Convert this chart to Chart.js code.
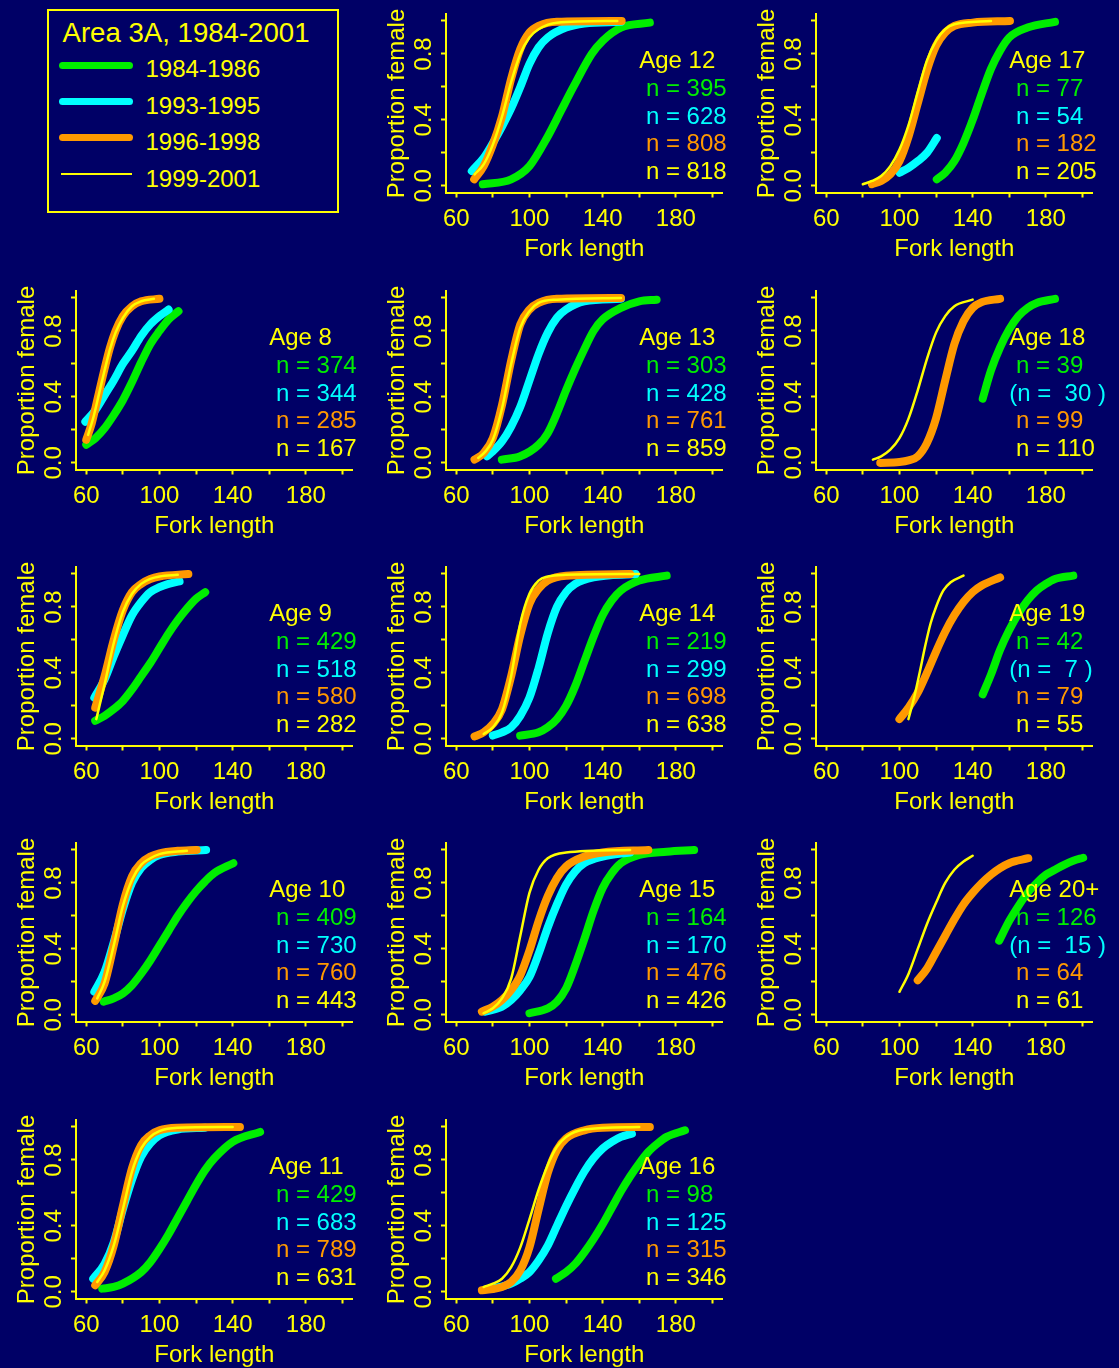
<!DOCTYPE html>
<html>
<head>
<meta charset="utf-8">
<script src="https://cdn.jsdelivr.net/npm/chart.js@4.4.1/dist/chart.umd.min.js"></script>
<style>
html,body{margin:0;padding:0;background:#000066;width:1119px;height:1368px;overflow:hidden;}
.panel{position:absolute;width:370px;height:276px;}
.lg{position:absolute;font-family:"Liberation Sans",Arial,sans-serif;color:#ffff00;white-space:nowrap;line-height:1;}
.sw{position:absolute;}
#lgbox{position:absolute;left:46.7px;top:9px;width:292.6px;height:203.7px;box-sizing:border-box;border:2px solid #ffff00;}
</style>
</head>
<body>
<div id="lgbox"></div>
<div class="lg" style="left:62.5px;top:19.3px;font-size:27.6px;">Area 3A, 1984-2001</div>
<div class="sw" style="left:59.3px;top:61.5px;width:74px;height:7px;border-radius:3.5px;background:#00ee00;"></div>
<div class="lg" style="left:145.5px;top:57.2px;font-size:24px;">1984-1986</div>
<div class="sw" style="left:59.3px;top:97.5px;width:74px;height:7px;border-radius:3.5px;background:#00ffff;"></div>
<div class="lg" style="left:145.5px;top:93.6px;font-size:24px;">1993-1995</div>
<div class="sw" style="left:59.3px;top:134.2px;width:74px;height:7px;border-radius:3.5px;background:#ff9900;"></div>
<div class="lg" style="left:145.5px;top:130.2px;font-size:24px;">1996-1998</div>
<div class="sw" style="left:61px;top:173.3px;width:70.7px;height:2px;background:#ffff00;"></div>
<div class="lg" style="left:145.5px;top:166.9px;font-size:24px;">1999-2001</div>
<script>
// ---------- axis ticks ----------
const xTickValues = [60, 80, 100, 120, 140, 160, 180, 200];
const xTickLabels = ['60', '', '100', '', '140', '', '180', ''];
const yTickValues = [0, 0.2, 0.4, 0.6, 0.8, 1.0];
const yTickLabels = ['0.0', '', '0.4', '', '0.8', ''];
const periods = ['1984-1986', '1993-1995', '1996-1998', '1999-2001'];

// ---------- data: [fork length, proportion female] ----------
// Age 8
const age8_n = [374, 344, 285, 167];
const age8_8486 = [[60,0.11],[65,0.15],[70,0.21],[75,0.29],[80,0.38],[85,0.49],[90,0.61],[95,0.72],[100,0.8],[105,0.87],[110.4,0.92]];
const age8_9395 = [[59.5,0.25],[65,0.32],[70,0.41],[75,0.5],[80,0.6],[85,0.68],[90,0.77],[95,0.84],[100,0.89],[105,0.93]];
const age8_9698 = [[60,0.14],[63,0.24],[66,0.38],[70,0.57],[73,0.7],[76,0.8],[80,0.89],[85,0.95],[90,0.98],[100,0.995]];
const age8_9901 = [[61,0.17],[64,0.28],[67,0.42],[70,0.56],[73,0.69],[76,0.79],[80,0.88],[85,0.95],[90,0.98],[97,0.995]];
// Age 9
const age9_n = [429, 518, 580, 282];
const age9_8486 = [[64.9,0.11],[70,0.14],[75,0.18],[80,0.23],[85,0.3],[90,0.38],[95,0.46],[100,0.55],[105,0.64],[110,0.72],[115,0.79],[120,0.85],[125,0.89]];
const age9_9395 = [[64.4,0.25],[70,0.36],[75,0.5],[80,0.63],[85,0.75],[90,0.83],[95,0.89],[100,0.92],[105,0.94],[111,0.955]];
const age9_9698 = [[64.9,0.19],[70,0.38],[75,0.6],[80,0.78],[85,0.89],[90,0.94],[95,0.97],[100,0.985],[115.8,1.0]];
const age9_9901 = [[65.5,0.12],[70,0.33],[75,0.58],[80,0.77],[85,0.88],[90,0.94],[95,0.97],[100,0.985],[110,0.995]];
// Age 10
const age10_n = [409, 730, 760, 443];
const age10_8486 = [[69.5,0.08],[75,0.1],[80,0.13],[85,0.18],[90,0.25],[95,0.33],[100,0.42],[105,0.51],[110,0.6],[115,0.68],[120,0.75],[125,0.81],[130,0.86],[140.4,0.92]];
const age10_9395 = [[64.4,0.14],[70,0.26],[75,0.44],[80,0.64],[85,0.8],[90,0.89],[95,0.94],[100,0.97],[110,0.99],[125.5,1.0]];
const age10_9698 = [[64.9,0.085],[70,0.19],[75,0.42],[80,0.67],[85,0.84],[90,0.92],[95,0.96],[100,0.98],[110,0.995],[120.4,1.0]];
const age10_9901 = [[66,0.1],[70,0.2],[75,0.42],[80,0.66],[85,0.82],[90,0.91],[95,0.95],[100,0.975],[115,0.995]];
// Age 11
const age11_n = [429, 683, 789, 631];
const age11_8486 = [[68.7,0.02],[75,0.03],[80,0.05],[90,0.12],[95,0.18],[100,0.26],[105,0.35],[110,0.45],[115,0.55],[120,0.65],[125,0.74],[130,0.81],[140,0.91],[155,0.97]];
const age11_9395 = [[63.8,0.08],[70,0.17],[75,0.3],[80,0.5],[85,0.68],[90,0.82],[95,0.9],[100,0.95],[110,0.985],[125,0.995]];
const age11_9698 = [[64.9,0.04],[70,0.12],[75,0.28],[80,0.52],[85,0.75],[90,0.89],[95,0.95],[100,0.98],[110,0.995],[144,1.0]];
const age11_9901 = [[66,0.06],[70,0.13],[75,0.28],[80,0.5],[85,0.73],[90,0.87],[95,0.94],[100,0.975],[110,0.995],[140,1.0]];
// Age 12
const age12_n = [395, 628, 808, 818];
const age12_8486 = [[74.5,0.01],[90,0.04],[100,0.12],[110,0.3],[117,0.45],[124,0.6],[134,0.8],[140,0.88],[150,0.96],[165.8,0.99]];
const age12_9395 = [[68.5,0.09],[75,0.17],[80,0.26],[85,0.36],[90,0.47],[95,0.6],[100,0.74],[105,0.84],[110,0.9],[120,0.96],[130,0.985],[150,0.995]];
const age12_9698 = [[69.8,0.04],[75,0.12],[80,0.25],[85,0.42],[90,0.65],[95,0.83],[100,0.93],[105,0.97],[115,0.995],[150.4,1.0]];
const age12_9901 = [[70,0.07],[75,0.13],[80,0.25],[85,0.42],[90,0.63],[95,0.8],[100,0.9],[105,0.95],[115,0.99],[148,1.0]];
// Age 13
const age13_n = [303, 428, 761, 859];
const age13_8486 = [[84.9,0.02],[95,0.04],[105,0.11],[110,0.18],[115,0.3],[120,0.44],[125,0.57],[130,0.69],[135,0.8],[140,0.87],[150,0.94],[160,0.98],[169.5,0.99]];
const age13_9395 = [[76.7,0.04],[80,0.07],[85,0.13],[90,0.22],[95,0.34],[100,0.5],[105,0.66],[110,0.79],[115,0.88],[120,0.93],[130,0.98],[150,0.995]];
const age13_9698 = [[70,0.02],[75,0.06],[80,0.15],[85,0.35],[90,0.62],[95,0.84],[100,0.93],[105,0.97],[115,0.995],[150,1.0]];
const age13_9901 = [[72,0.03],[76,0.07],[80,0.14],[85,0.33],[90,0.6],[95,0.82],[100,0.92],[105,0.97],[115,0.99],[150,1.0]];
// Age 14
const age14_n = [219, 299, 698, 638];
const age14_8486 = [[94.9,0.02],[105,0.04],[110,0.07],[115,0.12],[120,0.2],[125,0.32],[130,0.47],[135,0.62],[140,0.75],[145,0.84],[150,0.9],[160,0.96],[175,0.99]];
const age14_9395 = [[80,0.02],[85,0.04],[90,0.07],[95,0.14],[100,0.25],[105,0.43],[110,0.64],[115,0.8],[120,0.89],[125,0.94],[135,0.98],[158,1.0]];
const age14_9698 = [[70,0.015],[75,0.04],[80,0.09],[85,0.18],[90,0.38],[95,0.63],[100,0.82],[105,0.91],[110,0.96],[120,0.99],[155,1.0]];
const age14_9901 = [[75,0.03],[80,0.07],[85,0.16],[90,0.38],[95,0.7],[100,0.88],[105,0.96],[110,0.985],[120,0.995],[160,1.0]];
// Age 15
const age15_n = [164, 170, 476, 426];
const age15_8486 = [[100,0.01],[110,0.04],[115,0.08],[120,0.16],[125,0.3],[130,0.46],[135,0.63],[140,0.77],[145,0.86],[150,0.92],[160,0.97],[175,0.99],[190,1.0]];
const age15_9395 = [[75.8,0.02],[85,0.05],[90,0.09],[95,0.15],[100,0.23],[105,0.37],[110,0.53],[115,0.67],[120,0.79],[125,0.87],[130,0.92],[140,0.96],[155,0.985]];
const age15_9698 = [[74,0.02],[80,0.05],[85,0.09],[90,0.15],[95,0.24],[100,0.39],[105,0.57],[110,0.72],[115,0.83],[120,0.9],[130,0.96],[140,0.985],[165,1.0]];
const age15_9901 = [[74.9,0.01],[80,0.04],[85,0.1],[90,0.22],[95,0.48],[100,0.74],[105,0.88],[110,0.95],[120,0.985],[155,1.0]];
// Age 16
const age16_n = [98, 125, 315, 346];
const age16_8486 = [[114.5,0.08],[120,0.12],[125,0.17],[130,0.24],[135,0.32],[140,0.41],[145,0.51],[150,0.61],[155,0.7],[160,0.78],[165,0.85],[170,0.9],[175,0.94],[185,0.98]];
const age16_9395 = [[80,0.02],[90,0.05],[95,0.08],[100,0.12],[105,0.19],[110,0.28],[115,0.4],[120,0.52],[125,0.63],[130,0.73],[135,0.81],[140,0.87],[145,0.91],[150,0.94],[156,0.96]];
const age16_9698 = [[74,0.01],[85,0.03],[90,0.06],[95,0.13],[100,0.27],[105,0.5],[110,0.72],[115,0.86],[120,0.93],[130,0.98],[140,0.995],[165.8,1.0]];
const age16_9901 = [[75,0.03],[80,0.05],[85,0.08],[90,0.15],[95,0.27],[100,0.44],[105,0.62],[110,0.77],[115,0.88],[120,0.94],[130,0.985],[160,1.0]];
// Age 17
const age17_n = [77, 54, 182, 205];
const age17_8486 = [[120.4,0.04],[125,0.08],[130,0.15],[135,0.26],[140,0.4],[145,0.56],[150,0.71],[155,0.82],[160,0.9],[170,0.96],[185,0.995]];
const age17_9395 = [[100,0.08],[105,0.11],[110,0.15],[115,0.2],[120.4,0.29]];
const age17_9698 = [[84.9,0.01],[90,0.03],[95,0.07],[100,0.15],[105,0.3],[110,0.5],[115,0.7],[120,0.85],[125,0.93],[130,0.97],[140,0.99],[160.4,1.0]];
const age17_9901 = [[80,0.01],[85,0.03],[90,0.06],[95,0.12],[100,0.22],[105,0.37],[110,0.57],[115,0.76],[120,0.88],[125,0.95],[130,0.98],[150,1.0]];
// Age 18
const age18_n = [39, 30, 99, 110];
const age18_8486 = [[145.5,0.39],[150,0.56],[155,0.7],[160,0.81],[165,0.89],[170,0.94],[175,0.97],[185,0.995]];
const age18_9395 = [];
const age18_9698 = [[89.5,0.0],[100,0.005],[105,0.015],[110,0.04],[115,0.12],[120,0.27],[125,0.5],[130,0.72],[135,0.86],[140,0.94],[145,0.975],[155,0.995]];
const age18_9901 = [[85.5,0.02],[90,0.04],[95,0.08],[100,0.15],[105,0.27],[110,0.44],[115,0.63],[120,0.79],[125,0.89],[130,0.95],[140,0.99]];
// Age 19
const age19_n = [42, 7, 79, 55];
const age19_8486 = [[145.5,0.27],[150,0.39],[155,0.54],[160,0.66],[165,0.76],[170,0.84],[175,0.9],[180,0.94],[185,0.97],[195,0.99]];
const age19_9395 = [];
const age19_9698 = [[100,0.12],[105,0.19],[110,0.28],[115,0.4],[120,0.53],[125,0.65],[130,0.75],[135,0.83],[140,0.89],[145,0.93],[155,0.98]];
const age19_9901 = [[104.9,0.12],[108,0.25],[111,0.4],[114,0.56],[117,0.7],[120,0.8],[124,0.9],[128,0.95],[135,0.99]];
// Age 20+
const age20_n = [126, 15, 64, 61];
const age20_8486 = [[154.5,0.45],[160,0.57],[165,0.66],[170,0.74],[175,0.8],[180,0.85],[185,0.88],[190,0.91],[195,0.935],[200.4,0.953]];
const age20_9395 = [];
const age20_9698 = [[110,0.21],[115,0.28],[120,0.38],[125,0.48],[130,0.58],[135,0.67],[140,0.74],[145,0.8],[150,0.85],[155,0.89],[160,0.92],[170.4,0.95]];
const age20_9901 = [[100,0.14],[105,0.25],[110,0.4],[115,0.55],[120,0.68],[125,0.8],[130,0.88],[135,0.93],[140,0.965]];

// ---------- styling ----------
const YEL = '#ffff00';
const COLORS = ['#00ee00', '#00ffff', '#ff9900', '#ffff00'];
const WIDTHS = [8, 8, 8, 2.5];
const FONT = '"Liberation Sans", Arial, sans-serif';
Chart.defaults.font.family = FONT;
Chart.defaults.font.size = 24;
Chart.defaults.color = YEL;

const COL_X = [0, 370, 740];
const ROW_Y = [0, 276.5, 553, 829.3, 1105.6];

const panels = [
  {title: 'Age 8',   col: 0, row: 1, curves: [age8_8486, age8_9395, age8_9698, age8_9901], n: age8_n, paren: false},
  {title: 'Age 9',   col: 0, row: 2, curves: [age9_8486, age9_9395, age9_9698, age9_9901], n: age9_n, paren: false},
  {title: 'Age 10',  col: 0, row: 3, curves: [age10_8486, age10_9395, age10_9698, age10_9901], n: age10_n, paren: false},
  {title: 'Age 11',  col: 0, row: 4, curves: [age11_8486, age11_9395, age11_9698, age11_9901], n: age11_n, paren: false},
  {title: 'Age 12',  col: 1, row: 0, curves: [age12_8486, age12_9395, age12_9698, age12_9901], n: age12_n, paren: false},
  {title: 'Age 13',  col: 1, row: 1, curves: [age13_8486, age13_9395, age13_9698, age13_9901], n: age13_n, paren: false},
  {title: 'Age 14',  col: 1, row: 2, curves: [age14_8486, age14_9395, age14_9698, age14_9901], n: age14_n, paren: false},
  {title: 'Age 15',  col: 1, row: 3, curves: [age15_8486, age15_9395, age15_9698, age15_9901], n: age15_n, paren: false},
  {title: 'Age 16',  col: 1, row: 4, curves: [age16_8486, age16_9395, age16_9698, age16_9901], n: age16_n, paren: false},
  {title: 'Age 17',  col: 2, row: 0, curves: [age17_8486, age17_9395, age17_9698, age17_9901], n: age17_n, paren: false},
  {title: 'Age 18',  col: 2, row: 1, curves: [age18_8486, age18_9395, age18_9698, age18_9901], n: age18_n, paren: true},
  {title: 'Age 19',  col: 2, row: 2, curves: [age19_8486, age19_9395, age19_9698, age19_9901], n: age19_n, paren: true},
  {title: 'Age 20+', col: 2, row: 3, curves: [age20_8486, age20_9395, age20_9698, age20_9901], n: age20_n, paren: true}
];

function axisCommon() {
  return {
    grid: {display: true, drawOnChartArea: false, drawTicks: true, tickLength: 5, tickWidth: 2, tickColor: YEL},
    border: {display: true, color: YEL, width: 2}
  };
}

function makePanel(p) {
  const wrap = document.createElement('div');
  wrap.className = 'panel';
  wrap.style.left = COL_X[p.col] + 'px';
  wrap.style.top = ROW_Y[p.row] + 'px';
  const cv = document.createElement('canvas');
  cv.width = 370; cv.height = 276;
  cv.style.width = '370px'; cv.style.height = '276px';
  wrap.appendChild(cv);
  document.body.appendChild(wrap);

  const datasets = p.curves.map((pts, i) => ({
    label: periods[i],
    data: pts.map(d => ({x: d[0], y: d[1]})),
    borderColor: COLORS[i],
    borderWidth: WIDTHS[i],
    borderCapStyle: 'round',
    borderJoinStyle: 'round',
    pointRadius: 0,
    fill: false,
    cubicInterpolationMode: 'monotone',
    order: 3 - i
  }));

  const lines = [
    {text: p.title, color: YEL},
    {text: ' n = ' + p.n[0], color: COLORS[0]},
    {text: p.paren ? '(n =  ' + p.n[1] + ' )' : ' n = ' + p.n[1], color: COLORS[1]},
    {text: ' n = ' + p.n[2], color: COLORS[2]},
    {text: ' n = ' + p.n[3], color: COLORS[3]}
  ];

  const textPlugin = {
    id: 'panelText',
    afterDatasetsDraw(chart) {
      const {ctx, scales: {x, y}} = chart;
      ctx.save();
      ctx.font = '24px ' + FONT;
      ctx.textAlign = 'left';
      ctx.textBaseline = 'middle';
      const x0 = x.getPixelForValue(160);
      const y0 = y.getPixelForValue(0.744) - 1.5;
      lines.forEach((ln, i) => {
        ctx.fillStyle = ln.color;
        ctx.fillText(ln.text, x0, y0 + i * 27.6);
      });
      ctx.restore();
    }
  };

  new Chart(cv, {
    type: 'line',
    data: {datasets},
    plugins: [textPlugin],
    options: {
      responsive: false,
      animation: false,
      devicePixelRatio: 1,
      events: [],
      layout: {padding: {left: 0, right: 17.3, top: 9.9, bottom: 0}},
      plugins: {legend: {display: false}, tooltip: {enabled: false}},
      scales: {
        x: Object.assign(axisCommon(), {
          type: 'linear', min: 54.4, max: 205.6,
          afterBuildTicks: s => { s.ticks = xTickValues.map(v => ({value: v})); },
          afterFit: s => { s.height = 83.5; },
          ticks: {autoSkip: false, minRotation: 0, maxRotation: 0, padding: 7, color: YEL,
                  callback: (v, i) => xTickLabels[i]},
          title: {display: true, text: 'Fork length', color: YEL, padding: {top: 0, bottom: 12}}
        }),
        y: Object.assign(axisCommon(), {
          type: 'linear', min: -0.04, max: 1.04,
          afterBuildTicks: s => { s.ticks = yTickValues.map(v => ({value: v})); },
          afterFit: s => { s.width = 76; },
          ticks: {autoSkip: false, minRotation: 90, maxRotation: 90, crossAlign: 'center', padding: 0, color: YEL,
                  callback: (v, i) => yTickLabels[i]},
          title: {display: true, text: 'Proportion female', color: YEL, padding: {top: 12.6, bottom: 0}}
        })
      }
    }
  });
}

panels.forEach(makePanel);
</script>
</body>
</html>
